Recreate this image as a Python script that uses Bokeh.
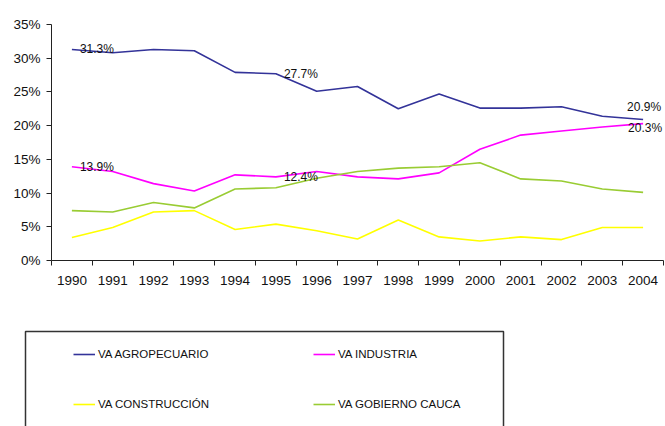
from bokeh.plotting import figure
from bokeh.models import (Range1d, FixedTicker, PrintfTickFormatter, Legend, LegendItem,
                          BoxAnnotation)
from bokeh.core.properties import value
from bokeh.embed import file_html
from bokeh.resources import INLINE

years = ["1990", "1991", "1992", "1993", "1994", "1995", "1996", "1997",
         "1998", "1999", "2000", "2001", "2002", "2003", "2004"]
agropecuario = [31.3, 30.8, 31.3, 31.1, 27.9, 27.7, 25.1, 25.8, 22.5, 24.7, 22.6, 22.6, 22.8, 21.4, 20.9]
industria = [13.9, 13.2, 11.4, 10.3, 12.7, 12.4, 13.2, 12.4, 12.1, 13.0, 16.5, 18.6, 19.2, 19.8, 20.3]
construccion = [3.4, 4.9, 7.2, 7.4, 4.6, 5.4, 4.4, 3.2, 6.0, 3.5, 2.9, 3.5, 3.1, 4.9, 4.9]
gobierno = [7.4, 7.2, 8.6, 7.8, 10.6, 10.8, 12.2, 13.2, 13.7, 13.9, 14.5, 12.1, 11.8, 10.6, 10.1]
series_names = ["VA AGROPECUARIO", "VA INDUSTRIA", "VA CONSTRUCCIÓN", "VA GOBIERNO CAUCA"]
y_ticks = [0, 5, 10, 15, 20, 25, 30, 35]
labelled_left = [0, 5]   # indices with labels to the right of the point
labelled_end = 14

colors = ["#333399", "#FF00FF", "#FFFF00", "#99CC33"]
FONT = "Liberation Sans"
TXT = "#111111"

W, H = 665, 426
# pixel layout of the axes area inside the canvas
AX_L, AX_R, AX_T, AX_B = 51, 663, 24, 260
n = len(years)
x_lo, x_hi = -0.5, n - 0.5
y_lo, y_hi = 0, 35
xpx = (AX_R - AX_L) / (x_hi - x_lo)
ypx = (AX_B - AX_T) / (y_hi - y_lo)
x_range = Range1d(x_lo - AX_L / xpx, x_hi + (W - AX_R) / xpx)
y_range = Range1d(y_lo - (H - AX_B) / ypx, y_hi + AX_T / ypx)

x = list(range(n))

p = figure(width=W, height=H, output_backend="svg", toolbar_location=None,
           x_range=x_range, y_range=y_range,
           min_border_left=0, min_border_right=0, min_border_top=0, min_border_bottom=0)
p.outline_line_color = None
p.grid.visible = False
p.background_fill_color = "white"
p.border_fill_color = "white"

renderers = []
for vals, c in zip([agropecuario, industria, construccion, gobierno], colors):
    renderers.append(p.line(x, vals, line_color=c, line_width=1.6))

# data labels
LBL = "12px"
for vals in [agropecuario, industria]:
    xs = labelled_left
    ys = [vals[i] for i in xs]
    ts = ["%.1f%%" % v for v in ys]
    p.text(xs, ys, text=ts, text_align="left", text_baseline="middle", x_offset=8,
           text_font=value(FONT), text_font_size=LBL, text_color=TXT)
p.text([labelled_end], [agropecuario[labelled_end]], text=["%.1f%%" % agropecuario[labelled_end]],
       text_align="right", text_baseline="bottom", x_offset=18, y_offset=-6,
       text_font=value(FONT), text_font_size=LBL, text_color=TXT)
p.text([labelled_end], [industria[labelled_end]], text=["%.1f%%" % industria[labelled_end]],
       text_align="right", text_baseline="middle", x_offset=19, y_offset=4,
       text_font=value(FONT), text_font_size=LBL, text_color=TXT)

xa = p.xaxis[0]
xa.fixed_location = y_lo
xa.bounds = (x_lo, x_hi)
xa.ticker = FixedTicker(ticks=x, minor_ticks=[i - 0.5 for i in range(n + 1)])
xa.major_label_overrides = {i: y for i, y in enumerate(years)}
xa.major_tick_line_color = None
xa.major_tick_out = 5
xa.major_tick_in = 0
xa.minor_tick_out = 5
xa.minor_tick_in = 0
xa.minor_tick_line_color = "#222222"
xa.axis_line_color = "#222222"
xa.major_label_standoff = 10
xa.major_label_text_font = FONT
xa.major_label_text_font_size = "13.5px"
xa.major_label_text_color = TXT

ya = p.yaxis[0]
ya.fixed_location = x_lo
ya.bounds = (y_lo, y_hi)
ya.ticker = FixedTicker(ticks=y_ticks)
ya.formatter = PrintfTickFormatter(format="%d%%")
ya.major_tick_out = 5
ya.major_tick_in = 0
ya.minor_tick_line_color = None
ya.major_tick_line_color = "#222222"
ya.axis_line_color = "#222222"
ya.major_label_standoff = 6
ya.major_label_text_font = FONT
ya.major_label_text_font_size = "13.5px"
ya.major_label_text_color = TXT

# legend box (screen units, measured from the frame's bottom-left)
box = BoxAnnotation(left=25, right=503, top=H - 331, bottom=-5,
                    left_units="screen", right_units="screen",
                    top_units="screen", bottom_units="screen",
                    fill_alpha=0, line_color="#333333", line_width=1.5, line_alpha=1)
p.add_layout(box)

items = [LegendItem(label=nm, renderers=[r]) for nm, r in zip(series_names, renderers)]
# column-major fill: col1 = AGROPECUARIO, CONSTRUCCIÓN; col2 = INDUSTRIA, GOBIERNO
leg = Legend(items=[items[0], items[2], items[1], items[3]], ncols=2, location=(73, H - 419),
             padding=0, spacing=20, margin=0, glyph_width=22, glyph_height=30,
             label_height=30, label_width=195, label_standoff=3,
             label_text_font=FONT, label_text_font_size="11.5px", label_text_color=TXT,
             border_line_color=None, background_fill_alpha=0)
p.add_layout(leg, "center")

open("out.html", "w").write(file_html(p, INLINE))
